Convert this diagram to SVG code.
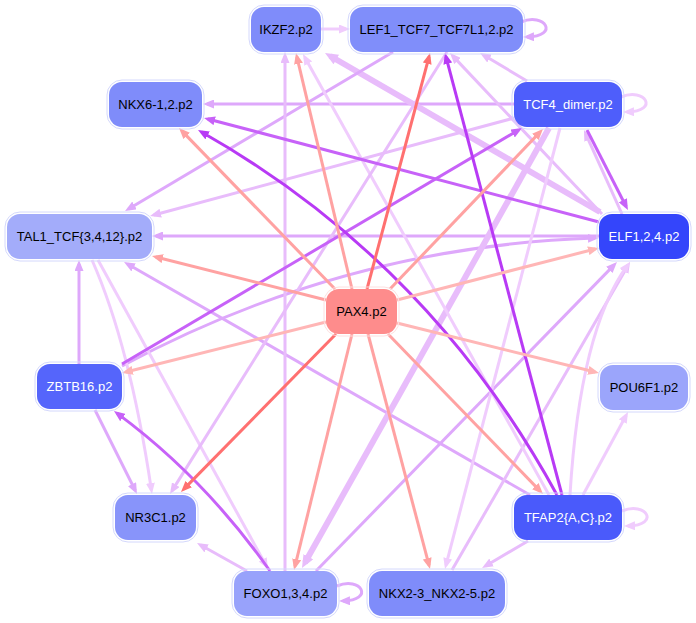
<svg xmlns="http://www.w3.org/2000/svg" width="696" height="623" viewBox="0 0 696 623">
<defs>
<style>
.e{fill:none;stroke-width:3}
.t{stroke-width:6}
.c1{stroke:#f0ccfd}.c2{stroke:#e8bcfb}.c3{stroke:#dea8fb}.c4{stroke:#c762f8}.c5{stroke:#b83af5}
.s1{stroke:#ffb6b6}.s2{stroke:#ffa2a2}.s3{stroke:#ff7070}
.c1{marker-end:url(#m-c1)}.c2{marker-end:url(#m-c2)}.c3{marker-end:url(#m-c3)}.c4{marker-end:url(#m-c4)}.c5{marker-end:url(#m-c5)}
.s1{marker-end:url(#m-s1)}.s2{marker-end:url(#m-s2)}.s3{marker-end:url(#m-s3)}
.t.c2{marker-end:url(#m-c2t)}
.o{fill:none;stroke:#d4d8fc;stroke-width:1}
.n text{font-family:"Liberation Sans",Arial,sans-serif;font-size:13px;text-anchor:middle;fill:#000}
.n text.w{fill:#fff}
</style>
<marker id="m-c1" markerWidth="11" markerHeight="9" refX="7" refY="4.5" orient="auto" markerUnits="userSpaceOnUse"><path d="M0,0 L11,4.5 L0,9 z" fill="#f0ccfd"/></marker>
<marker id="m-c2" markerWidth="11" markerHeight="9" refX="7" refY="4.5" orient="auto" markerUnits="userSpaceOnUse"><path d="M0,0 L11,4.5 L0,9 z" fill="#e8bcfb"/></marker>
<marker id="m-c2t" markerWidth="13" markerHeight="11" refX="7" refY="5.5" orient="auto" markerUnits="userSpaceOnUse"><path d="M0,0 L13,5.5 L0,11 z" fill="#e8bcfb"/></marker>
<marker id="m-c3" markerWidth="11" markerHeight="9" refX="7" refY="4.5" orient="auto" markerUnits="userSpaceOnUse"><path d="M0,0 L11,4.5 L0,9 z" fill="#dea8fb"/></marker>
<marker id="m-c4" markerWidth="11" markerHeight="9" refX="7" refY="4.5" orient="auto" markerUnits="userSpaceOnUse"><path d="M0,0 L11,4.5 L0,9 z" fill="#c762f8"/></marker>
<marker id="m-c5" markerWidth="11" markerHeight="9" refX="7" refY="4.5" orient="auto" markerUnits="userSpaceOnUse"><path d="M0,0 L11,4.5 L0,9 z" fill="#b83af5"/></marker>
<marker id="m-s1" markerWidth="11" markerHeight="9" refX="7" refY="4.5" orient="auto" markerUnits="userSpaceOnUse"><path d="M0,0 L11,4.5 L0,9 z" fill="#ffb6b6"/></marker>
<marker id="m-s2" markerWidth="11" markerHeight="9" refX="7" refY="4.5" orient="auto" markerUnits="userSpaceOnUse"><path d="M0,0 L11,4.5 L0,9 z" fill="#ffa2a2"/></marker>
<marker id="m-s3" markerWidth="11" markerHeight="9" refX="7" refY="4.5" orient="auto" markerUnits="userSpaceOnUse"><path d="M0,0 L11,4.5 L0,9 z" fill="#ff7070"/></marker>
</defs>
<rect width="696" height="623" fill="#fff"/>
<g id="edges">
<path class="e c1" d="M321,29 L346,29"/>
<path class="e c3" d="M521,22 C545,12 560,36 527,37"/>
<path class="e c2" d="M527,81 L483.5,55"/>
<path class="e c1" d="M621,97 C645,87 660,111 627,112"/>
<path class="e c3" d="M514,104 L207,104"/>
<path class="e c2" d="M622,214 L585.6,133.6"/>
<path class="e c4" d="M587,130 L626.1,206.5"/>
<path class="e c2" d="M602,214 L452.7,55.9"/>
<path class="e t c2" d="M600,212 L330.2,56"/>
<path class="e c3" d="M599,236 L156,236"/>
<path class="e c2" d="M514,118 L153.9,215"/>
<path class="e c3" d="M393,52 L128.5,209"/>
<path class="e c3" d="M530,495 L127.5,264"/>
<path class="e c3" d="M79,364 L79,264"/>
<path class="e c3" d="M122,366 Q345.5,246 595,238.1"/>
<path class="e c2" d="M247,571 L200.5,545"/>
<path class="e c2" d="M285,571 L285,56"/>
<path class="e c3" d="M316,571 L614.2,264.9"/>
<path class="e c3" d="M337,586 C361,576 375,600 343,601"/>
<path class="e t c2" d="M549,128 L304.9,562.8"/>
<path class="e c1" d="M560,128 L446,565.1"/>
<path class="e c2" d="M452,570 L628,265.5"/>
<path class="e c2" d="M528,541 L485.5,566"/>
<path class="e c1" d="M570,495 Q580,330 627.6,265.2"/>
<path class="e c1" d="M583,495 L626.1,415.5"/>
<path class="e c1" d="M549,495 L304.9,57.5"/>
<path class="e c1" d="M622,511 C646,501 661,525 628,526"/>
<path class="e c1" d="M92,260 Q130,346 151.4,490"/>
<path class="e c1" d="M98,260 L266.1,565.5"/>
<path class="e c3" d="M95,410 L135.2,490.4"/>
<path class="e c2" d="M447,52 L172.1,490.6"/>
<path class="e c4" d="M599,222 L207.9,119"/>
<path class="e c4" d="M122,364 L518.6,130"/>
<path class="e c4" d="M270,571 Q204.4,477.9 117.2,413.4"/>
<path class="e c5" d="M557,495 Q429.5,261.3 201.5,132"/>
<path class="e c5" d="M562,495 L446,56.9"/>
<path class="e s1" d="M326,322 L125.9,372"/>
<path class="e s1" d="M397,323 L595.1,372"/>
<path class="e s1" d="M397,300 L595.1,249"/>
<path class="e s2" d="M352,289 L296.9,56.9"/>
<path class="e s2" d="M335,289 L181.8,130.9"/>
<path class="e s2" d="M326,300 L155.9,257"/>
<path class="e s2" d="M352,334 L295,566.1"/>
<path class="e s2" d="M368,334 L429,565.1"/>
<path class="e s2" d="M388,334 L540.2,491.1"/>
<path class="e s2" d="M390,289 L540.2,131.9"/>
<path class="e s3" d="M367,289 L429,56.9"/>
<path class="e s3" d="M336,334 L183.8,489.1"/>
</g>
<g id="n-IKZF2" class="n"><rect class="o" x="249" y="5" width="74" height="49" rx="15"/><rect x="251" y="7" width="70" height="45" rx="13" fill="#7f8cfa"/><text x="286" y="33.5">IKZF2.p2</text></g>
<g id="n-LEF1" class="n"><rect class="o" x="348" y="5" width="177" height="49" rx="15"/><rect x="350" y="7" width="173" height="45" rx="13" fill="#808efa"/><text x="436.5" y="33.5">LEF1_TCF7_TCF7L1,2.p2</text></g>
<g id="n-TCF4" class="n"><rect class="o" x="512" y="80" width="112" height="49" rx="15"/><rect x="514" y="82" width="108" height="45" rx="13" fill="#4e5efb"/><text class="w" x="568" y="109">TCF4_dimer.p2</text></g>
<g id="n-NKX6" class="n"><rect class="o" x="107" y="80" width="97" height="49" rx="15"/><rect x="109" y="82" width="93" height="45" rx="13" fill="#7f8cfa"/><text x="155.5" y="109">NKX6-1,2.p2</text></g>
<g id="n-TAL1" class="n"><rect class="o" x="5" y="212" width="149" height="49" rx="15"/><rect x="7" y="214" width="145" height="45" rx="13" fill="#a3acfa"/><text x="79.5" y="241">TAL1_TCF{3,4,12}.p2</text></g>
<g id="n-ELF" class="n"><rect class="o" x="597" y="212" width="94" height="49" rx="15"/><rect x="599" y="214" width="90" height="45" rx="13" fill="#3445fb"/><text class="w" x="644" y="241">ELF1,2,4.p2</text></g>
<g id="n-ZBTB16" class="n"><rect class="o" x="35" y="362" width="89" height="49" rx="15"/><rect x="37" y="364" width="85" height="45" rx="13" fill="#5565fb"/><text class="w" x="79.5" y="391">ZBTB16.p2</text></g>
<g id="n-POU6F1" class="n"><rect class="o" x="598" y="363" width="92" height="49" rx="15"/><rect x="600" y="365" width="88" height="45" rx="13" fill="#9ba5fb"/><text x="644" y="392">POU6F1.p2</text></g>
<g id="n-PAX4" class="n"><rect class="o" x="324" y="287" width="75" height="49" rx="15" style="stroke:#fde0e0"/><rect x="326" y="289" width="71" height="45" rx="13" fill="#fe8c8c"/><text x="361.5" y="316">PAX4.p2</text></g>
<g id="n-NR3C1" class="n"><rect class="o" x="113" y="493" width="85" height="49" rx="15"/><rect x="115" y="495" width="81" height="45" rx="13" fill="#8894fa"/><text x="155.5" y="522">NR3C1.p2</text></g>
<g id="n-FOXO" class="n"><rect class="o" x="232" y="569" width="107" height="49" rx="15"/><rect x="234" y="571" width="103" height="45" rx="13" fill="#98a2fb"/><text x="285.5" y="598">FOXO1,3,4.p2</text></g>
<g id="n-NKX2" class="n"><rect class="o" x="367" y="569" width="140" height="49" rx="15"/><rect x="369" y="571" width="136" height="45" rx="13" fill="#7f8cfa"/><text x="437" y="598">NKX2-3_NKX2-5.p2</text></g>
<g id="n-TFAP2" class="n"><rect class="o" x="512" y="493" width="112" height="49" rx="15"/><rect x="514" y="495" width="108" height="45" rx="13" fill="#4a5afb"/><text class="w" x="568" y="522">TFAP2{A,C}.p2</text></g>
</svg>
